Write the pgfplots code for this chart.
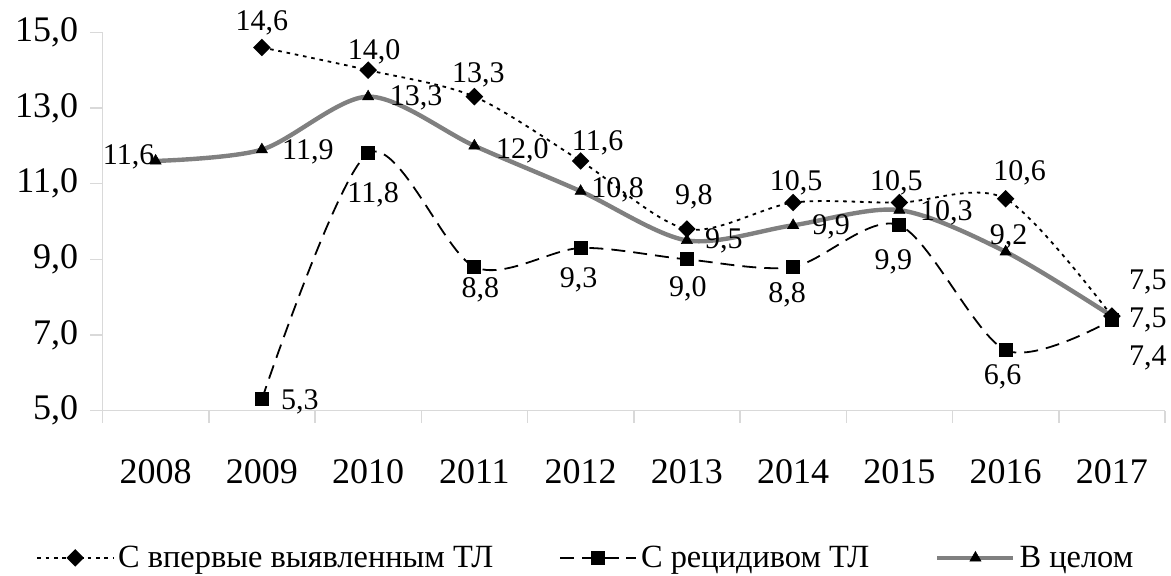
\documentclass[border=0pt]{standalone}
\usepackage{pgfplots}
\pgfplotsset{compat=1.18}
\usepackage{pgfplotstable}
\usepackage{fontspec}
\setmainfont{Liberation Serif}
\newfontfamily\tnr{Liberation Serif}
\definecolor{axisgray}{HTML}{D9D9D9}
\definecolor{linegray}{HTML}{808080}

\pgfplotstableread{
x y dx dy
1 14.6 0 12.2
2 14.0 3 9
3 13.3 2 11
4 11.6 8.5 9
5 9.8 3.5 16
6 10.5 1.5 10
7 10.5 -1.5 10
8 10.6 7 13
9 7.5 18 17
}\first
\pgfplotstableread{
x y dx dy
1 5.3 19 -1.5
2 11.8 2.5 -20.5
3 8.8 3 -11.5
4 9.3 -1 -16
5 9.0 0.5 -14.5
6 8.8 -3 -14
7 9.9 -3 -18.5
8 6.6 -1.5 -13.5
9 7.4 18 -19
}\relapse
\pgfplotstableread{
x y dx dy
0 11.6 -13.5 2
1 11.9 23 -1
2 13.3 24 -0.5
3 12.0 24 -2.5
4 10.8 18.5 0.5
5 9.5 18.5 0
6 9.9 19 -1
7 10.3 23.5 -1.5
8 9.2 1.5 7.5
9 7.5 18 -2
}\total

\pgfkeys{/pgf/number format/.cd, use comma, fixed, fixed zerofill, precision=1, assume math mode=true}

\pgfplotsset{
  lbl/.style={
    nodes near coords, point meta=y,
    visualization depends on={\thisrow{dx}\as\lbldx},
    visualization depends on={\thisrow{dy}\as\lbldy},
    every node near coord/.append style={anchor=center, xshift=\lbldx pt, yshift=\lbldy pt,
      font=\tnr\fontsize{15}{17}\selectfont, text=black, inner sep=0pt},
  }
}

\begin{document}
\tnr
\begin{tikzpicture}[font=\tnr]
\begin{axis}[
  scale only axis, width=531.25pt, height=189.2pt,
  xmin=-0.5, xmax=9.5, ymin=5, ymax=15,
  clip=false,
  axis x line*=bottom, axis y line*=left,
  axis line style={draw=axisgray, line width=0.75pt},
  xtick={0,1,2,3,4,5,6,7,8,9},
  xticklabels={2008,2009,2010,2011,2012,2013,2014,2015,2016,2017},
  major x tick style={draw=none},
  minor xtick={-0.5,0.5,1.5,2.5,3.5,4.5,5.5,6.5,7.5,8.5,9.5},
  minor tick length=6pt,
  major tick length=6pt,
  tick align=outside,
  tick style={draw=axisgray, line width=0.75pt},
  ytick={5,7,9,11,13,15},
  tick label style={font=\tnr\fontsize{18}{21}\selectfont},
  yticklabel style={inner sep=0pt, xshift=-6pt},
  xticklabel style={inner sep=0pt, yshift=-18pt},
  legend columns=3,
  legend style={at={(axis description cs:-0.0626,-0.389)}, anchor=west, draw=none, fill=none,
    inner sep=0pt, font=\tnr\fontsize{16.2}{19}\selectfont,
    /tikz/every even column/.append style={column sep=31pt}},
  legend image code/.code={\draw[mark repeat=2,mark phase=2,#1] plot coordinates {(0pt,0pt)(19pt,0pt)(38pt,0pt)};},
]
\addplot[black, line width=0.9pt, dash pattern=on 1.8pt off 2.4pt, smooth, tension=0.5,
  mark=square*, mark size=2.65pt, mark options={solid, rotate=45, fill=black}, lbl]
  table[x=x,y=y] {\first};
\addlegendentry{С впервые выявленным ТЛ}
\addplot[black, line width=0.9pt, dash pattern=on 7pt off 4pt, smooth, tension=0.5,
  mark=square*, mark size=3pt, mark options={solid, fill=black}, lbl]
  table[x=x,y=y] {\relapse};
\addlegendentry{С рецидивом ТЛ}
\addplot[linegray, line width=2.2pt, smooth, tension=0.5,
  mark=triangle*, mark size=3.2pt, mark options={solid, fill=black, draw=black, line width=0.3pt}, lbl]
  table[x=x,y=y] {\total};
\addlegendentry{В целом}
\end{axis}
\pgfresetboundingbox
\path ([shift={(-51.25pt,-82.15pt)}]current axis.south west) rectangle ([shift={(3pt,16.15pt)}]current axis.north east);
\end{tikzpicture}
\end{document}
